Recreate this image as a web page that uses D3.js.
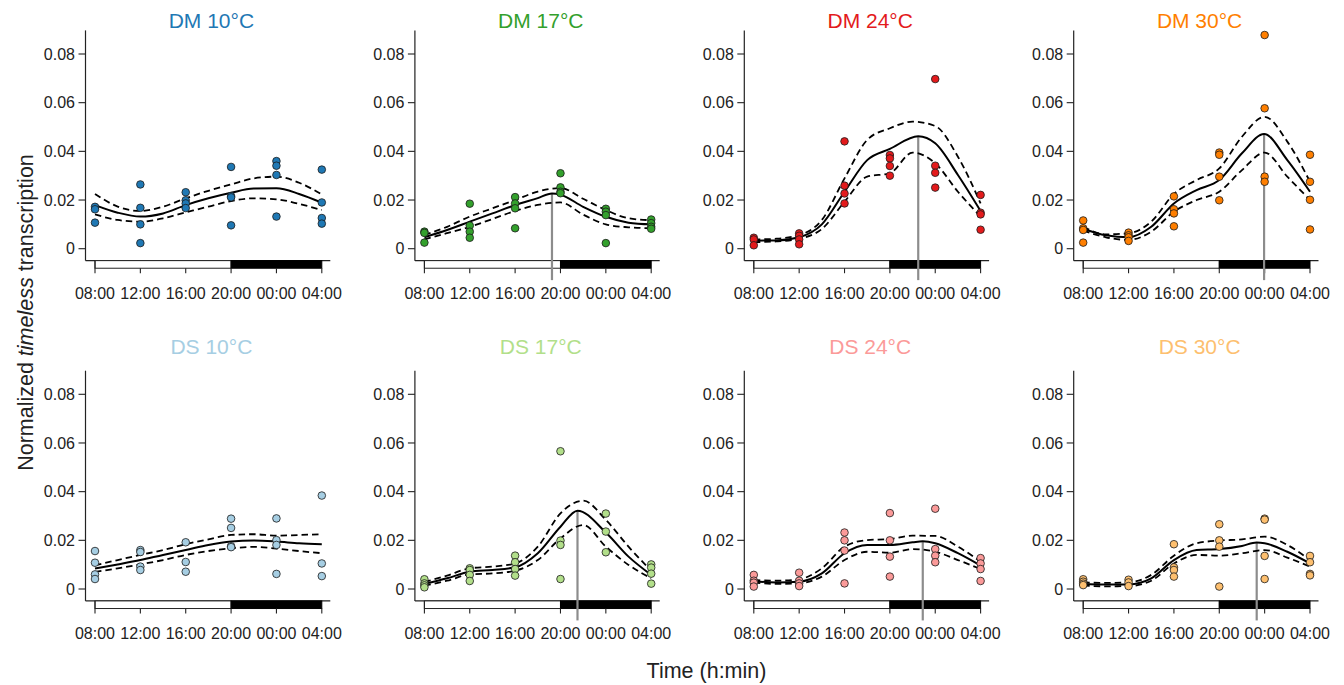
<!DOCTYPE html>
<html><head><meta charset="utf-8">
<script src="https://cdn.jsdelivr.net/npm/d3@7"></script>
<style>
body{margin:0;background:#fff;}
svg{display:block;font-family:"Liberation Sans",Arial,Helvetica,sans-serif;}
</style></head><body>
<svg id="chart" width="1344" height="685"></svg>
<script>
// ---------- data ----------
const panelTitles = ["DM 10°C","DM 17°C","DM 24°C","DM 30°C","DS 10°C","DS 17°C","DS 24°C","DS 30°C"];
const panelColors = ["#1f78b4","#33a02c","#e31a1c","#ff7f00","#a6cee3","#b2df8a","#fb9a99","#fdbf6f"];
const sampleHours = [0,4,8,12,16,20];           // hours after 08:00
const timeLabels = ["08:00","12:00","16:00","20:00","00:00","04:00"];
const yTickValues = [0,0.02,0.04,0.06,0.08];
const yTickLabels = ["0","0.02","0.04","0.06","0.08"];
const lightPhase = [0,12];
const darkPhase = [12,20];
const fitHours = [0,2,4,6,8,10,12,14,16,18,20];

// replicate measurements at each sample time
const pts_DM10 = [[0.0172,0.0162,0.0107],[0.0264,0.0168,0.0100,0.0023],[0.0232,0.0199,0.0186,0.0167],[0.0336,0.0216,0.0211,0.0096],[0.0360,0.0341,0.0303,0.0132],[0.0325,0.0190,0.0126,0.0103]];
const pts_DM17 = [[0.0070,0.0065,0.0025],[0.0185,0.0095,0.0070,0.0045],[0.0212,0.0186,0.0166,0.0084],[0.0310,0.0252,0.0234,0.0228],[0.0164,0.0152,0.0138,0.0023],[0.0120,0.0105,0.0090,0.0082]];
const pts_DM24 = [[0.0045,0.0038,0.0014],[0.0063,0.0053,0.0038,0.0018],[0.0441,0.0259,0.0227,0.0186],[0.0385,0.0371,0.0340,0.0300],[0.0697,0.0341,0.0312,0.0251],[0.0221,0.0148,0.0141,0.0078]];
const pts_DM30 = [[0.0116,0.0084,0.0077,0.0025],[0.0066,0.0055,0.0047,0.0032],[0.0215,0.0162,0.0145,0.0092],[0.0395,0.0386,0.0296,0.0199],[0.0878,0.0577,0.0296,0.0275],[0.0386,0.0275,0.0201,0.0079]];
const pts_DS10 = [[0.0156,0.0108,0.0060,0.0041],[0.0160,0.0152,0.0092,0.0078],[0.0192,0.0111,0.0071],[0.0289,0.0251,0.0176,0.0172],[0.0290,0.0201,0.0181,0.0062],[0.0384,0.0105,0.0053]];
const pts_DS17 = [[0.0040,0.0023,0.0015,0.0007],[0.0085,0.0078,0.0058,0.0033],[0.0137,0.0110,0.0082,0.0055],[0.0566,0.0199,0.0181,0.0041],[0.0310,0.0236,0.0151],[0.0101,0.0088,0.0063,0.0022]];
const pts_DS24 = [[0.0058,0.0034,0.0026,0.0010],[0.0067,0.0034,0.0023,0.0012],[0.0232,0.0200,0.0158,0.0023],[0.0312,0.0200,0.0133,0.0051],[0.0330,0.0164,0.0137,0.0110],[0.0127,0.0105,0.0082,0.0033]];
const pts_DS30 = [[0.0040,0.0030,0.0022,0.0016],[0.0038,0.0027,0.0012],[0.0184,0.0089,0.0078,0.0051],[0.0266,0.0200,0.0174,0.0010],[0.0289,0.0285,0.0136,0.0041],[0.0136,0.0110,0.0062,0.0056]];

// fitted curve (at fitHours) and its confidence band
const fit_DM10 = [0.0179,0.0148,0.0132,0.0145,0.0179,0.0207,0.0230,0.0247,0.0248,0.0225,0.0189];
const up_DM10  = [0.0225,0.0173,0.0155,0.0173,0.0207,0.0238,0.0264,0.0289,0.0296,0.0271,0.0223];
const lo_DM10  = [0.0141,0.0118,0.0111,0.0125,0.0149,0.0173,0.0196,0.0207,0.0203,0.0184,0.0159];
const fit_DM17 = [0.0047,0.0077,0.0111,0.0145,0.0179,0.0208,0.0222,0.0172,0.0131,0.0107,0.0100];
const up_DM17  = [0.0056,0.0090,0.0132,0.0166,0.0200,0.0235,0.0249,0.0205,0.0159,0.0125,0.0117];
const lo_DM17  = [0.0038,0.0064,0.0090,0.0122,0.0155,0.0180,0.0190,0.0140,0.0100,0.0088,0.0084];
const fit_DM24 = [0.0033,0.0034,0.0047,0.0100,0.0234,0.0364,0.0410,0.0455,0.0433,0.0303,0.0155];
const up_DM24  = [0.0038,0.0041,0.0056,0.0118,0.0289,0.0447,0.0495,0.0522,0.0504,0.0378,0.0186];
const lo_DM24  = [0.0027,0.0030,0.0041,0.0081,0.0193,0.0296,0.0310,0.0395,0.0351,0.0234,0.0132];
const fit_DM30 = [0.0082,0.0055,0.0047,0.0090,0.0186,0.0241,0.0282,0.0392,0.0470,0.0364,0.0234];
const up_DM30  = [0.0090,0.0059,0.0063,0.0111,0.0225,0.0282,0.0330,0.0460,0.0542,0.0440,0.0275];
const lo_DM30  = [0.0074,0.0047,0.0036,0.0070,0.0152,0.0200,0.0234,0.0323,0.0395,0.0296,0.0200];
const fit_DS10 = [0.0084,0.0101,0.0119,0.0140,0.0160,0.0181,0.0195,0.0199,0.0195,0.0188,0.0184];
const up_DS10  = [0.0097,0.0119,0.0140,0.0160,0.0184,0.0204,0.0222,0.0225,0.0219,0.0222,0.0225];
const lo_DS10  = [0.0070,0.0085,0.0101,0.0119,0.0140,0.0156,0.0167,0.0173,0.0166,0.0156,0.0147];
const fit_DS17 = [0.0021,0.0044,0.0071,0.0078,0.0089,0.0147,0.0256,0.0318,0.0232,0.0133,0.0058];
const up_DS17  = [0.0029,0.0055,0.0085,0.0092,0.0105,0.0174,0.0311,0.0363,0.0284,0.0174,0.0075];
const lo_DS17  = [0.0014,0.0034,0.0060,0.0064,0.0075,0.0119,0.0208,0.0263,0.0174,0.0099,0.0044];
const fit_DS24 = [0.0032,0.0027,0.0030,0.0064,0.0147,0.0181,0.0181,0.0192,0.0188,0.0147,0.0096];
const up_DS24  = [0.0037,0.0034,0.0040,0.0085,0.0174,0.0201,0.0205,0.0219,0.0218,0.0174,0.0112];
const lo_DS24  = [0.0026,0.0021,0.0023,0.0051,0.0119,0.0153,0.0149,0.0164,0.0153,0.0119,0.0082];
const fit_DS30 = [0.0021,0.0018,0.0019,0.0044,0.0119,0.0160,0.0164,0.0177,0.0188,0.0153,0.0105];
const up_DS30  = [0.0027,0.0025,0.0027,0.0058,0.0137,0.0188,0.0199,0.0204,0.0215,0.0181,0.0119];
const lo_DS30  = [0.0014,0.0011,0.0012,0.0034,0.0105,0.0140,0.0137,0.0147,0.0160,0.0129,0.0092];

// peak time (hours after 08:00) and peak value of the fit; null = no marked peak
const peakHours  = [null, 11.25, 14.5, 15.95, null, 13.5, 14.9, 15.3];
const peakValues = [null, 0.0227, 0.0462, 0.0471, null, 0.0322, 0.0196, 0.0191];

const samplesByPanel = [pts_DM10,pts_DM17,pts_DM24,pts_DM30,pts_DS10,pts_DS17,pts_DS24,pts_DS30];
const fitByPanel = [fit_DM10,fit_DM17,fit_DM24,fit_DM30,fit_DS10,fit_DS17,fit_DS24,fit_DS30];
const upByPanel  = [up_DM10,up_DM17,up_DM24,up_DM30,up_DS10,up_DS17,up_DS24,up_DS30];
const loByPanel  = [lo_DM10,lo_DM17,lo_DM24,lo_DM30,lo_DS10,lo_DS17,lo_DS24,lo_DS30];

// ---------- layout ----------
const svg = d3.select("#chart");
const ink = "#222";
const colStep = 329.4, rowStep = 340.3;
const x0First = 95, xWidth = 226.8;
const yZero = 248.7, yTop08 = 54;

function drawPanel(i){
  const col = i % 4, row = Math.floor(i / 4);
  const xl = x0First + col*colStep;
  const x = d3.scaleLinear().domain([0,20]).range([xl, xl + xWidth]);
  const y = d3.scaleLinear().domain([0,0.08]).range([yZero + row*rowStep, yTop08 + row*rowStep]);
  const g = svg.append("g");
  const axX = xl - 9.5;
  const baseY = y(-0.0049);       // bottom frame line
  const topY = y(0.0897);
  const barH = 7.6;

  // y axis line + ticks
  g.append("line").attr("x1",axX).attr("x2",axX).attr("y1",topY).attr("y2",baseY)
    .attr("stroke",ink).attr("stroke-width",1.2);
  g.append("line").attr("x1",axX).attr("x2",x(20)+8.5).attr("y1",baseY).attr("y2",baseY)
    .attr("stroke",ink).attr("stroke-width",1.2);
  yTickValues.forEach((v,k)=>{
    g.append("line").attr("x1",axX-7).attr("x2",axX).attr("y1",y(v)).attr("y2",y(v))
      .attr("stroke",ink).attr("stroke-width",1.1);
    g.append("text").attr("x",axX-10.5).attr("y",y(v)).attr("dy","0.35em")
      .attr("text-anchor","end").attr("font-size",16).attr("fill",ink).text(yTickLabels[k]);
  });

  // light / dark bar
  g.append("rect").attr("x",x(lightPhase[0])).attr("y",baseY).attr("width",x(lightPhase[1])-x(lightPhase[0]))
    .attr("height",barH).attr("fill","#fff").attr("stroke",ink).attr("stroke-width",1);
  g.append("rect").attr("x",x(darkPhase[0])).attr("y",baseY).attr("width",x(darkPhase[1])-x(darkPhase[0]))
    .attr("height",barH).attr("fill","#000").attr("stroke","#000").attr("stroke-width",1);

  // x ticks + labels
  sampleHours.forEach((h,k)=>{
    g.append("line").attr("x1",x(h)).attr("x2",x(h)).attr("y1",k===0?baseY:baseY+barH).attr("y2",baseY+12.6)
      .attr("stroke",ink).attr("stroke-width",1.1);
    g.append("text").attr("x",x(h)).attr("y",baseY+32.3).attr("dy","0.35em")
      .attr("text-anchor","middle").attr("font-size",16).attr("fill",ink).text(timeLabels[k]);
  });

  // title
  g.append("text").attr("x",(x(0)+x(20))/2+3).attr("y",row===0?20.7:346.7).attr("dy","0.36em")
    .attr("text-anchor","middle").attr("font-size",21).attr("fill",panelColors[i]).text(panelTitles[i]);

  // peak marker
  if (peakHours[i] !== null){
    g.append("line").attr("x1",x(peakHours[i])).attr("x2",x(peakHours[i]))
      .attr("y1",y(peakValues[i])).attr("y2",baseY+19.5)
      .attr("stroke","#8c8c8c").attr("stroke-width",2.2);
  }

  // fitted curves
  let mid = fitHours.map((h,k)=>[h, fitByPanel[i][k]]);
  if (peakHours[i] !== null){
    mid = mid.filter(d=>Math.abs(d[0]-peakHours[i])>0.6);
    mid.push([peakHours[i], peakValues[i]]);
    mid.sort((a,b)=>a[0]-b[0]);
  }
  const line = d3.line().x(d=>x(d[0])).y(d=>y(d[1])).curve(d3.curveMonotoneX);
  [upByPanel[i], loByPanel[i]].forEach(arr=>{
    g.append("path").attr("d", line(fitHours.map((h,k)=>[h,arr[k]])))
      .attr("fill","none").attr("stroke","#000").attr("stroke-width",1.8).attr("stroke-dasharray","6.5,4");
  });
  g.append("path").attr("d", line(mid)).attr("fill","none").attr("stroke","#000").attr("stroke-width",2);

  // points
  const pts = [];
  samplesByPanel[i].forEach((vals,k)=>vals.forEach(v=>pts.push([sampleHours[k], v])));
  g.selectAll("circle.pt").data(pts).enter().append("circle").attr("class","pt")
    .attr("cx",d=>x(d[0])).attr("cy",d=>y(d[1])).attr("r",3.8)
    .attr("fill",panelColors[i]).attr("stroke","#1a1a1a").attr("stroke-width",0.8);
}
for (let i=0;i<8;i++) drawPanel(i);

// axis titles
const yl = svg.append("text").attr("transform","translate(25,312.5) rotate(-90)")
  .attr("text-anchor","middle").attr("dy","0.35em").attr("font-size",21.5).attr("fill",ink);
yl.append("tspan").text("Normalized ");
yl.append("tspan").attr("font-style","italic").text("timeless");
yl.append("tspan").text(" transcription");
svg.append("text").attr("x",706.5).attr("y",670.7).attr("dy","0.35em").attr("text-anchor","middle")
  .attr("font-size",21.5).attr("fill",ink).text("Time (h:min)");
</script>
</body></html>
